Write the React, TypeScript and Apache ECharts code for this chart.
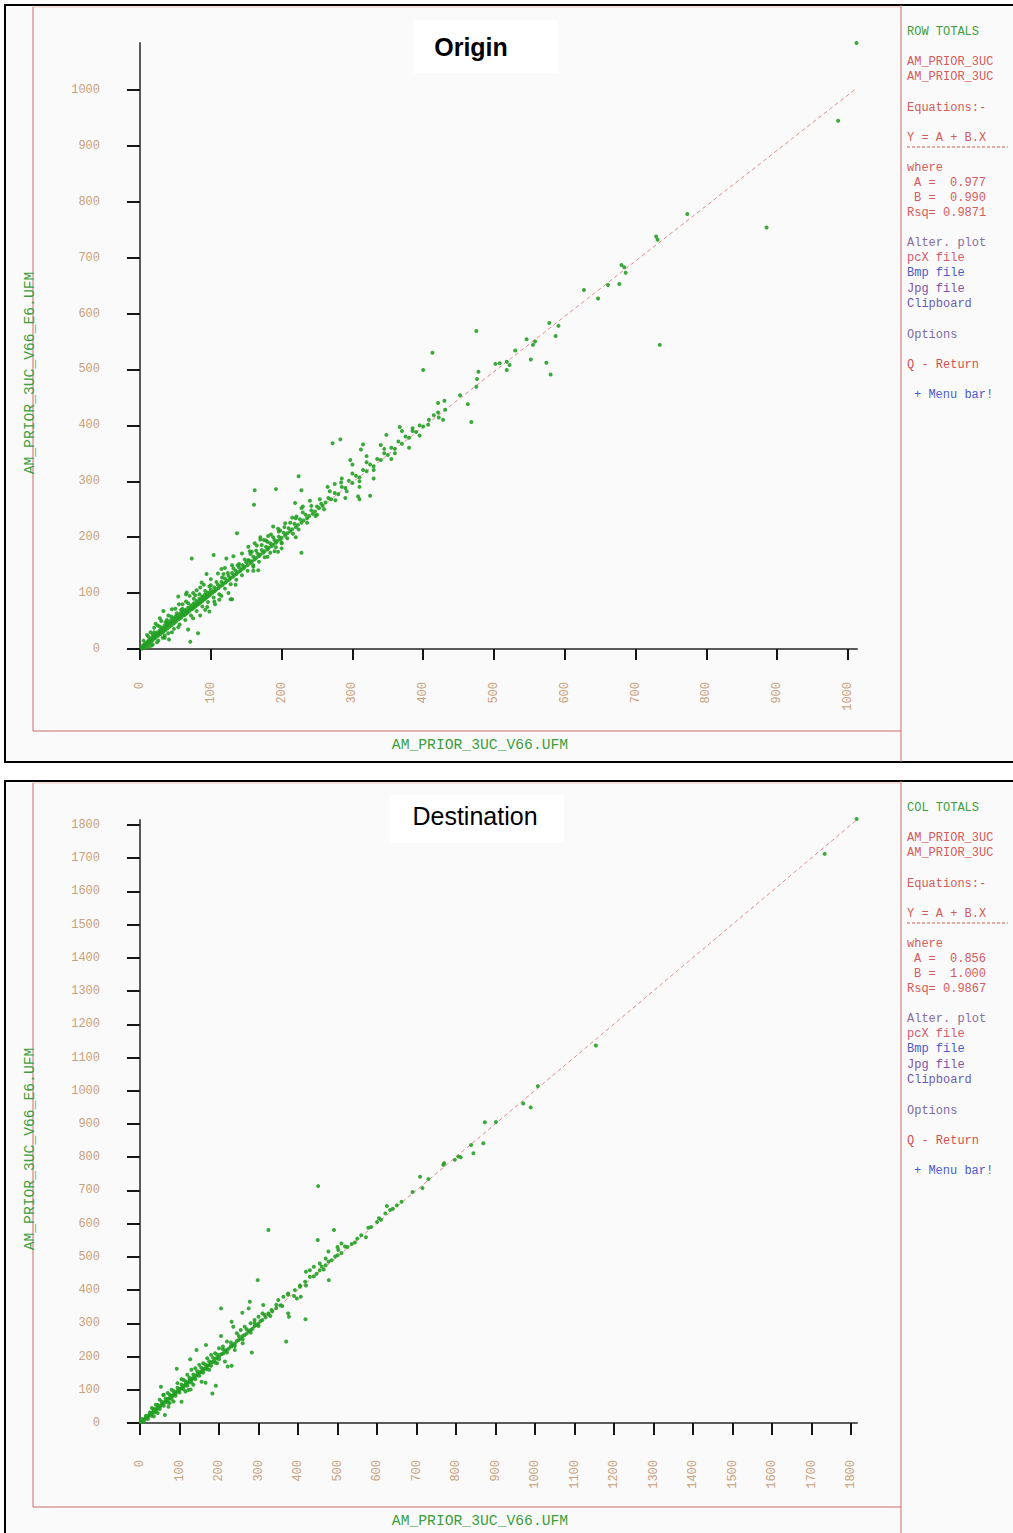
import React, { useEffect, useRef } from "react";
import * as echarts from "echarts";

// ---------- DATA ----------
const ORIGIN_X_TICKS = [0, 100, 200, 300, 400, 500, 600, 700, 800, 900, 1000];
const ORIGIN_Y_TICKS = [0, 100, 200, 300, 400, 500, 600, 700, 800, 900, 1000];
const DEST_TICKS = [0, 100, 200, 300, 400, 500, 600, 700, 800, 900, 1000, 1100, 1200, 1300, 1400, 1500, 1600, 1700, 1800];

const ORIGIN_SCATTER: number[][] = [
  [1012, 1084], [986, 945], [885, 754], [773, 778], [729, 738], [731, 732], [734, 544], [680, 687], [684, 683], [686, 673],
  [677, 653], [661, 651], [647, 627], [627, 642], [578, 583], [591, 578], [587, 560], [546, 554], [558, 550], [555, 544],
  [552, 518], [574, 512], [580, 491], [530, 534], [502, 510], [508, 511], [518, 514], [522, 508], [518, 499], [475, 569],
  [413, 530], [400, 499], [478, 496], [476, 483], [475, 469], [452, 454], [463, 438], [468, 406], [421, 440], [430, 444],
  [421, 423], [431, 428], [422, 414], [428, 410], [407, 401],
  [272, 368], [283, 375], [224, 309], [162, 284], [192, 286], [228, 284], [161, 258], [137, 207], [73, 162], [104, 168],
  [228, 172], [128, 89], [297, 338], [325, 274], [308, 273], [310, 268], [367, 397], [348, 383], [315, 366], [312, 357],
  [71, 13], [82, 28], [41, 17], [98, 67], [106, 80], [54, 94], [65, 98], [33, 68], [45, 71], [188, 219], [219, 261],
  [228, 252], [221, 237], [130, 89], [68, 35], [54, 39], [66, 101], [94, 134], [87, 119], [115, 143], [122, 162], [132, 166],
  [144, 171], [153, 183], [162, 189], [170, 196], [181, 202], [167, 141], [160, 147], [153, 159], [195, 174], [200, 189],
];

const ORIGIN_BAND: number[][] = [
  [2, 3], [3, 1], [4, 6], [5, 4], [6, 8], [7, 5], [8, 10], [9, 7], [10, 12], [11, 9], [12, 15], [13, 11], [14, 13], [15, 18],
  [16, 14], [17, 20], [18, 16], [19, 22], [20, 19], [21, 25], [22, 20], [23, 27], [24, 23], [25, 30], [26, 24], [27, 29],
  [28, 33], [29, 27], [30, 35], [31, 30], [32, 38], [33, 31], [34, 36], [35, 42], [36, 34], [37, 40], [38, 45], [39, 37],
  [40, 43], [41, 48], [42, 40], [43, 46], [44, 52], [45, 43], [46, 49], [47, 55], [48, 46], [49, 51], [50, 58], [51, 49],
  [52, 54], [53, 60], [55, 53], [56, 58], [57, 64], [58, 56], [59, 62], [60, 68],
  [10, 25], [15, 30], [20, 38], [25, 42], [30, 50], [12, 4], [18, 8], [26, 15], [35, 24], [40, 60], [22, 45], [28, 55],
  [35, 20], [45, 30], [50, 72], [55, 80],
  [61, 60], [62, 66], [63, 61], [64, 70], [65, 63], [66, 68], [67, 65], [68, 74], [69, 67], [70, 72], [71, 70], [72, 78],
  [73, 71], [74, 76], [75, 73], [76, 82], [77, 75], [78, 80], [79, 77], [80, 86], [81, 79], [82, 84], [83, 81], [84, 90],
  [85, 83], [86, 88], [87, 85], [88, 94], [89, 87], [90, 92], [91, 89], [92, 98], [93, 91], [94, 96], [95, 93], [96, 101],
  [97, 95], [98, 100], [99, 97], [100, 106], [102, 100], [104, 103], [105, 110], [106, 104], [108, 107], [110, 115],
  [111, 109], [113, 112], [115, 120], [116, 114], [118, 117], [120, 126], [121, 119], [123, 122], [125, 131], [126, 124],
  [128, 127], [130, 136], [131, 129], [133, 132], [135, 140], [136, 134], [138, 137], [140, 146], [141, 139], [143, 142],
  [145, 150], [146, 144], [148, 147], [150, 155],
  [65, 85], [70, 95], [75, 55], [80, 105], [85, 60], [90, 115], [95, 75], [100, 125], [105, 85], [110, 135], [115, 95],
  [120, 145], [125, 100], [130, 150], [75, 100], [85, 110], [60, 80], [92, 70], [112, 88], [135, 115],
  [152, 150], [154, 158], [156, 154], [158, 157], [160, 165], [162, 160], [164, 163], [166, 171], [168, 166], [170, 169],
  [172, 177], [174, 172], [176, 175], [178, 183], [180, 178], [182, 181], [184, 189], [186, 184], [188, 187], [190, 195],
  [192, 190], [194, 193], [196, 201], [198, 196], [200, 199], [203, 208], [205, 203], [208, 207], [210, 216], [212, 210],
  [215, 214], [218, 224], [220, 218], [223, 222], [226, 232], [228, 226], [231, 230], [234, 240], [236, 234], [239, 238],
  [242, 248], [244, 242], [247, 246], [250, 255], [253, 252], [256, 260], [258, 256],
  [155, 175], [165, 185], [175, 195], [185, 205], [195, 215], [205, 225], [215, 235], [160, 140], [180, 165], [200, 180],
  [220, 200], [240, 265], [250, 240], [170, 200], [190, 175], [230, 255],
  [262, 262], [266, 270], [270, 268], [275, 279], [280, 277], [285, 290], [290, 288], [295, 301], [300, 297], [305, 310],
  [310, 307], [315, 320], [320, 318], [325, 330], [330, 327], [335, 340], [340, 338], [345, 350], [350, 347], [355, 360],
  [360, 358], [365, 371], [370, 367], [375, 380], [380, 378], [385, 390], [390, 388], [395, 400], [400, 398], [408, 410],
  [415, 418],
  [265, 290], [275, 295], [285, 305], [290, 270], [300, 330], [310, 290], [320, 345], [330, 305], [340, 365], [355, 340],
  [370, 390], [380, 360], [385, 395], [395, 382],
];

const ORIGIN_BAND_WIDE: number[][] = [
  [5, 15], [8, 2], [12, 22], [16, 6], [20, 30], [24, 12], [28, 40], [32, 20], [36, 48], [40, 28], [44, 58], [48, 36],
  [52, 64], [56, 44], [60, 72], [64, 52], [68, 82], [72, 60], [76, 90], [80, 68], [84, 98], [88, 76], [92, 104], [96, 84],
  [100, 114], [104, 92], [108, 120], [112, 98], [116, 128], [120, 108], [124, 136], [128, 116], [132, 144], [136, 124],
  [140, 152], [144, 132], [148, 160], [152, 140], [156, 170], [160, 150], [164, 176], [168, 156], [172, 186], [176, 164],
  [180, 192], [184, 172], [188, 200], [192, 182], [196, 210], [200, 190], [204, 218], [208, 198], [212, 226], [216, 206],
  [220, 234], [224, 214], [230, 244], [236, 226], [242, 256], [248, 238], [254, 268], [260, 250], [268, 282], [276, 266],
  [284, 298], [292, 282], [300, 314], [310, 300], [320, 334], [330, 320], [345, 358], [360, 350],
  [18, 26], [38, 52], [58, 70], [78, 96], [98, 112], [118, 134], [138, 150], [158, 174], [178, 194], [198, 212],
];

const DEST_SCATTER: number[][] = [
  [1814, 1818], [1733, 1713], [1154, 1136], [1007, 1014], [970, 962], [989, 950], [873, 905], [901, 906], [838, 837],
  [869, 842], [844, 812], [770, 782], [797, 792], [806, 802], [812, 800], [768, 777], [709, 741], [730, 734], [715, 707],
  [662, 666], [625, 653], [633, 641], [621, 631], [605, 616], [578, 588], [572, 559], [544, 543], [536, 539], [451, 713],
  [325, 581], [491, 581], [450, 551], [519, 531], [502, 521], [477, 516], [494, 501], [477, 486], [460, 471], [447, 449],
  [430, 440], [478, 430], [298, 430], [418, 425], [405, 410], [392, 400], [375, 390], [363, 380], [350, 370], [333, 340],
  [325, 330], [407, 380], [397, 375], [419, 312], [375, 330], [377, 320], [312, 355], [278, 365], [259, 332], [275, 345],
  [370, 245], [205, 345], [283, 212], [232, 305], [236, 290], [205, 262], [232, 230], [240, 220], [222, 170], [232, 172],
  [215, 185], [192, 112], [183, 89], [143, 220], [167, 235], [127, 192], [93, 163], [105, 132], [156, 124], [166, 121],
  [53, 109], [59, 84], [63, 24], [72, 49], [105, 64], [122, 99], [128, 101],
];

const DEST_BAND: number[][] = [
  [2, 2], [4, 5], [6, 5], [8, 9], [10, 10], [12, 11], [14, 15], [16, 15], [18, 19], [20, 20], [22, 21], [24, 25], [26, 26],
  [28, 27], [30, 31], [32, 32], [34, 33], [36, 37], [38, 38], [40, 39], [42, 43], [44, 44], [46, 45], [48, 49], [50, 50],
  [52, 51], [55, 56], [58, 58], [60, 59], [63, 64], [66, 66], [68, 67], [70, 72], [73, 73], [76, 75], [78, 80], [80, 81],
  [83, 82], [86, 87], [88, 88], [90, 89], [93, 95], [96, 96], [98, 97], [100, 102], [103, 103], [106, 105], [108, 110],
  [110, 111], [113, 112], [116, 118], [118, 119], [121, 120], [124, 126], [126, 127], [129, 128], [132, 134], [135, 135],
  [138, 137], [141, 143], [144, 144], [147, 146], [150, 152], [153, 153], [156, 155], [160, 162], [163, 163], [166, 165],
  [170, 172], [173, 173], [176, 175], [180, 182], [184, 184], [188, 187], [192, 194], [196, 196], [200, 199], [204, 206],
  [208, 208], [212, 211], [216, 218], [220, 220], [225, 224], [230, 232], [235, 235], [240, 239], [245, 247], [250, 250],
  [255, 254], [260, 262], [265, 265], [270, 269], [275, 277], [280, 280], [285, 284], [290, 292], [295, 295], [300, 299],
  [305, 307], [310, 310], [318, 318], [325, 327], [335, 336], [345, 346], [355, 354],
  [30, 45], [40, 55], [50, 70], [60, 85], [70, 90], [80, 100], [85, 65], [95, 120], [110, 130], [120, 145], [130, 160],
  [140, 165], [150, 175], [160, 180], [170, 195], [180, 205], [190, 210], [200, 225], [210, 230], [220, 245], [115, 95],
  [135, 115], [175, 160], [195, 180], [245, 270], [255, 280], [265, 290], [260, 240], [280, 300], [290, 310], [300, 320],
  [310, 330], [35, 20], [45, 30], [75, 60],
  [440, 442], [455, 460], [465, 462], [470, 475], [485, 490], [500, 505], [510, 512], [525, 530], [550, 555], [560, 565],
  [585, 590], [600, 605], [610, 612], [640, 645], [650, 655], [690, 695], [430, 460], [420, 455], [440, 470], [455, 480],
  [470, 495], [500, 530], [510, 540],
];

const DEST_BAND_WIDE: number[][] = [
  [5, 12], [10, 4], [15, 22], [20, 12], [25, 32], [30, 22], [35, 42], [40, 32], [45, 54], [50, 42], [55, 64], [60, 52],
  [65, 74], [70, 62], [75, 86], [80, 72], [85, 96], [90, 82], [95, 106], [100, 92], [105, 116], [110, 102], [115, 126],
  [120, 112], [125, 136], [130, 122], [135, 146], [140, 132], [145, 156], [150, 142], [155, 166], [160, 152], [165, 176],
  [170, 162], [175, 186], [180, 172], [185, 196], [190, 182], [195, 206], [200, 192], [210, 222], [220, 212], [230, 242],
  [240, 232], [250, 262], [260, 252], [270, 282], [280, 272], [290, 302], [300, 292], [315, 326], [330, 322], [345, 356],
  [360, 352], [375, 386], [390, 382], [405, 414], [420, 414],
];

const ORIGIN_FIT: number[][] = [[0, 1], [1012, 1003]];
const DEST_FIT: number[][] = [[0, 1], [1815, 1816]];

const ORIGIN_MENU = ["ROW TOTALS", "AM_PRIOR_3UC", "AM_PRIOR_3UC", "Equations:-", "Y = A + B.X", "where", "A =  0.977", "B =  0.990", "Rsq= 0.9871", "Alter. plot", "pcX file", "Bmp file", "Jpg file", "Clipboard", "Options", "Q - Return", "+ Menu bar!"];
const DEST_MENU = ["COL TOTALS", "AM_PRIOR_3UC", "AM_PRIOR_3UC", "Equations:-", "Y = A + B.X", "where", "A =  0.856", "B =  1.000", "Rsq= 0.9867", "Alter. plot", "pcX file", "Bmp file", "Jpg file", "Clipboard", "Options", "Q - Return", "+ Menu bar!"];

const X_NAME = "AM_PRIOR_3UC_V66.UFM";
const Y_NAME = "AM_PRIOR_3UC_V66_E6.UFM";
const TITLES = ["Origin", "Destination"];

// ---------- STYLE ----------
const MONO = "'Liberation Mono', 'DejaVu Sans Mono', monospace";
const GREEN = "#3c9e3c";
const RED = "#d45a5a";
const TAN = "#c8a07a";
const PT = "#23a023";

const MENU_Y = [32, 62, 77, 108, 138, 168, 183, 198, 213, 243, 258, 273, 289, 304, 335, 365, 395];
const MENU_DX = [0, 0, 0, 0, 0, 0, 7, 7, 0, 0, 0, 0, 0, 0, 0, 0, 7];
const MENU_COL = [GREEN, RED, RED, RED, RED, RED, RED, RED, RED, "#8a6c9c", "#d25a6c", "#4a5cc4", "#8452a4", "#6a5cb4", "#7a6aa8", "#d45050", "#4a5ad0"];

function panelGraphics(oy: number, menu: string[], title: string, bold: boolean, tbox: number[]) {
  const els: any[] = [];
  els.push({ type: "rect", z: -10, shape: { x: 5, y: oy + 5, width: 1020, height: 757 }, style: { fill: "#fafafa", stroke: "#000", lineWidth: 2 } });
  els.push({ type: "line", z: -5, shape: { x1: 33, y1: oy + 7, x2: 901, y2: oy + 7 }, style: { stroke: "#f0c8c8", lineWidth: 1 } });
  els.push({ type: "polyline", z: -5, shape: { points: [[33, oy + 7], [33, oy + 731], [901, oy + 731]] }, style: { stroke: "#cc6b6b", lineWidth: 1, fill: null } });
  els.push({ type: "line", z: -5, shape: { x1: 901, y1: oy + 5, x2: 901, y2: oy + 762 }, style: { stroke: "#cc6b6b", lineWidth: 1 } });
  els.push({ type: "rect", z: 50, shape: { x: tbox[0], y: oy + tbox[1], width: tbox[2], height: tbox[3] }, style: { fill: "#ffffff" } });
  els.push({
    type: "text", z: 51, x: tbox[4], y: oy + tbox[5],
    style: { text: title, fill: "#000", font: `${bold ? "bold " : ""}25px 'Liberation Sans', Arial, sans-serif`, align: "center", verticalAlign: "middle" },
  });
  menu.forEach((t, i) => {
    els.push({ type: "text", z: 20, x: 907 + MENU_DX[i], y: oy + MENU_Y[i], style: { text: t, fill: MENU_COL[i], font: `12px ${MONO}`, verticalAlign: "middle", align: "left" } });
  });
  els.push({ type: "line", z: 20, shape: { x1: 907, y1: oy + 147, x2: 1008, y2: oy + 147 }, style: { stroke: RED, lineWidth: 1, lineDash: [3, 2] } });
  els.push({ type: "text", z: 20, x: 480, y: oy + 745, style: { text: X_NAME, fill: GREEN, font: `14.7px ${MONO}`, align: "center", verticalAlign: "middle" } });
  els.push({ type: "text", z: 20, x: 30, y: oy + 373, rotation: Math.PI / 2, style: { text: Y_NAME, fill: GREEN, font: `14.7px ${MONO}`, align: "center", verticalAlign: "middle" } });
  return els;
}

function makeAxis(gridIndex: number, max: number, ticks: number[], isX: boolean, margin: number, tickLen: number) {
  return {
    type: "value",
    gridIndex,
    min: 0,
    max,
    axisLine: { show: true, onZero: false, lineStyle: { color: "#5a5a5a", width: 2 } },
    axisTick: { show: true, inside: false, length: tickLen, customValues: ticks, lineStyle: { color: "#151515", width: 2 } },
    axisLabel: {
      show: true, customValues: ticks, margin, rotate: isX ? 90 : 0,
      color: TAN, fontSize: 12, fontFamily: MONO,
      formatter: (v: number) => String(v),
    },
    splitLine: { show: false },
  };
}

export default function App() {
  const ref = useRef<HTMLDivElement>(null);
  useEffect(() => {
    if (!ref.current) return;
    const chart = echarts.init(ref.current, null, { renderer: "svg" });
    const graphics = [
      ...panelGraphics(0, ORIGIN_MENU, TITLES[0], true, [413, 20, 145, 53, 471, 47]),
      ...panelGraphics(776, DEST_MENU, TITLES[1], false, [390, 19, 174, 48, 475, 40]),
    ];
    const scatterStyle = { symbol: "circle", symbolSize: 4, itemStyle: { color: PT, opacity: 0.9 }, z: 3, clip: false };
    chart.setOption({
      animation: false,
      backgroundColor: "#ffffff",
      grid: [
        { left: 140, top: 43, width: 717, height: 606 },
        { left: 140, top: 820, width: 717, height: 603 },
      ],
      xAxis: [
        makeAxis(0, 1012.7, ORIGIN_X_TICKS, true, 33, 11),
        makeAxis(1, 1815, DEST_TICKS, true, 37, 12),
      ],
      yAxis: [
        makeAxis(0, 1084, ORIGIN_Y_TICKS, false, 40, 13),
        makeAxis(1, 1815, DEST_TICKS, false, 40, 13),
      ],
      graphic: { elements: graphics },
      series: [
        {
          type: "line", xAxisIndex: 0, yAxisIndex: 0, data: ORIGIN_FIT, symbol: "none", silent: true, z: 1,
          lineStyle: { color: "#e28a8a", width: 1, type: [4, 3] },
        },
        {
          type: "scatter", xAxisIndex: 0, yAxisIndex: 0,
          data: [...ORIGIN_BAND, ...ORIGIN_BAND_WIDE, ...ORIGIN_SCATTER],
          ...scatterStyle,
        },
        {
          type: "line", xAxisIndex: 1, yAxisIndex: 1, data: DEST_FIT, symbol: "none", silent: true, z: 1,
          lineStyle: { color: "#e28a8a", width: 1, type: [4, 3] },
        },
        {
          type: "scatter", xAxisIndex: 1, yAxisIndex: 1,
          data: [...DEST_BAND, ...DEST_BAND_WIDE, ...DEST_SCATTER],
          ...scatterStyle,
        },
      ],
    });
    return () => chart.dispose();
  }, []);
  return <div ref={ref} style={{ position: "absolute", left: 0, top: 0, width: 1013, height: 1533 }} />;
}
